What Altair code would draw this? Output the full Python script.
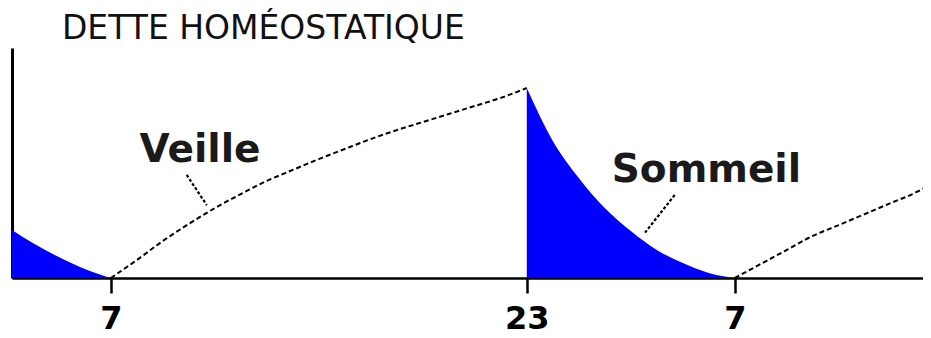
import altair as alt
import pandas as pd

# ---- data (hours; homeostatic debt in % of axis height) ----
left_t = [3.2, 4, 5, 6, 7]
left_s = [20.9, 15.2, 9.1, 3.9, 0.0]

wake1_t = [7, 8, 9, 10, 11, 12, 13, 14, 15, 16, 17, 18, 19, 20, 21, 22, 23]
wake1_s = [0.0, 7.8, 16.1, 23.5, 30.4, 36.5, 42.2, 47.0, 51.7, 56.1, 60.4, 64.3, 67.8, 71.3, 74.8, 78.3, 82.6]

sleep_t = [23, 24, 25, 26, 27, 28, 29, 30, 31]
sleep_s = [82.6, 59.6, 43.5, 30.4, 20.4, 12.2, 6.5, 2.2, 0.0]

wake2_t = [31, 32, 33, 34, 35, 36, 37, 38, 38.24]
wake2_s = [0.0, 6.1, 12.2, 18.3, 23.0, 27.8, 32.6, 37.4, 38.9]

tick_values = [7, 23, 31]
tick_labels = ["7", "23", "7"]

label_text = ["Veille", "Sommeil"]
label_t = [10.43, 29.91]
label_s = [50.4, 41.7]

leader_t1 = [9.92, 28.69]
leader_s1 = [44.8, 36.1]
leader_t2 = [10.69, 27.54]
leader_s2 = [31.7, 19.6]

title_text = ["DETTE HOMÉOSTATIQUE"]
title_t = [5.12]
title_s = [103.9]

x_domain = [3.2, 38.24]
y_domain = [0, 100]

# ---- build ----
label_expr = " : ".join(
    f"datum.value == {v} ? '{l}'" for v, l in zip(tick_values[:-1], tick_labels[:-1])
) + f" : '{tick_labels[-1]}'"

xs = alt.Scale(domain=x_domain, nice=False, zero=False)
ys = alt.Scale(domain=y_domain, nice=False, zero=True)

x_axis = alt.Axis(
    values=tick_values, labelExpr=label_expr, title=None, grid=False,
    domain=True, domainColor="black", domainWidth=2.5,
    ticks=True, tickColor="black", tickWidth=2.5, tickSize=15,
    labels=True, labelFont="DejaVu Sans", labelFontWeight="bold",
    labelFontSize=32, labelColor="black", labelPadding=10,
    labelFlush=False, labelOverlap=False,
)
y_axis = alt.Axis(
    title=None, grid=False, ticks=False, labels=False,
    domain=True, domainColor="black", domainWidth=3,
)

df_left = pd.DataFrame({"t": left_t, "s": left_s})
df_sleep = pd.DataFrame({"t": sleep_t, "s": sleep_s})
df_w1 = pd.DataFrame({"t": wake1_t, "s": wake1_s})
df_w2 = pd.DataFrame({"t": wake2_t, "s": wake2_s})
df_lab = pd.DataFrame({"txt": label_text, "t": label_t, "s": label_s})
df_lead = pd.DataFrame({"t1": leader_t1, "s1": leader_s1, "t2": leader_t2, "s2": leader_s2})
df_title = pd.DataFrame({"txt": title_text, "t": title_t, "s": title_s})

base_x = alt.X("t:Q", scale=xs, axis=x_axis)
base_y = alt.Y("s:Q", scale=ys, axis=y_axis)

area_left = alt.Chart(df_left).mark_area(color="#0000FF", interpolate="monotone", opacity=1).encode(
    x=base_x, y=base_y)
area_sleep = alt.Chart(df_sleep).mark_area(color="#0000FF", interpolate="monotone", opacity=1).encode(
    x=alt.X("t:Q", scale=xs), y=alt.Y("s:Q", scale=ys))

line_style = dict(color="black", strokeWidth=2, strokeDash=[5, 3], interpolate="monotone")
line_w1 = alt.Chart(df_w1).mark_line(**line_style).encode(
    x=alt.X("t:Q", scale=xs), y=alt.Y("s:Q", scale=ys))
line_w2 = alt.Chart(df_w2).mark_line(**line_style).encode(
    x=alt.X("t:Q", scale=xs), y=alt.Y("s:Q", scale=ys))

leaders = alt.Chart(df_lead).mark_rule(color="black", strokeWidth=2.2, strokeDash=[3, 2]).encode(
    x=alt.X("t1:Q", scale=xs), y=alt.Y("s1:Q", scale=ys),
    x2="t2:Q", y2="s2:Q")

labels = alt.Chart(df_lab).mark_text(
    font="DejaVu Sans", fontWeight="bold", fontSize=39, color="#1a1a1a",
    align="center", baseline="alphabetic").encode(
    x=alt.X("t:Q", scale=xs), y=alt.Y("s:Q", scale=ys), text="txt:N")

title = alt.Chart(df_title).mark_text(
    font="DejaVu Sans", fontSize=33, color="#111111",
    align="left", baseline="alphabetic").encode(
    x=alt.X("t:Q", scale=xs), y=alt.Y("s:Q", scale=ys), text="txt:N")

chart = alt.layer(
    area_left, area_sleep, line_w1, line_w2, leaders, labels, title
).properties(
    width=911, height=230,
    autosize=alt.AutoSizeParams(type="none"),
    padding={"left": 4, "top": 40, "right": 0, "bottom": 58},
).configure(background="white").configure_view(stroke=None)

chart.save("out.html", embed_options={"renderer": "svg", "actions": False})
